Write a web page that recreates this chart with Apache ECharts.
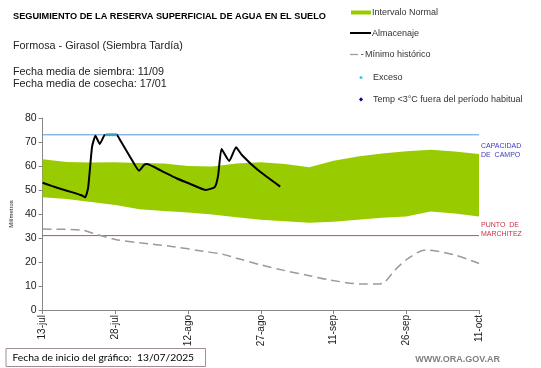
<!DOCTYPE html>
<html>
<head>
<meta charset="utf-8">
<script src="https://cdn.jsdelivr.net/npm/echarts@6/dist/echarts.min.js"></script>
<style>
html,body{margin:0;padding:0;background:#fff;}
#chart{width:541px;height:368px;}
</style>
</head>
<body>
<div id="chart"></div>
<script>
// ---- data (x = days since 13/07/2025) ----
const tickLabels = ['13-jul','28-jul','12-ago','27-ago','11-sep','26-sep','11-oct'];
const dayMin = 0, dayMax = 90;

const bandDays  = [0,5,10,15,20,25,30,35,40,45,50,55,60,65,70,75,80,85,90];
const bandLower = [47,46.2,45,43.8,42,41.3,40.6,39.8,38.6,37.6,37,36.4,36.8,37.6,38.4,39,41,40.2,39];
const bandUpper = [62.8,61.7,61.5,61.6,61.3,61,60,59.8,61,61.6,60.8,59.5,62.2,64,65.2,66.1,66.8,66,65];

const minDays = [0,8,10.8,15,20,27,33,37,40,45,50,55,59,66,69,70.5,72.7,75.4,79,85,90];
const minVals = [33.7,33.3,31.7,29.4,28,26.4,24.5,23.3,21.6,18.8,16.4,14.3,12.6,10.8,10.8,11.5,16.7,21.5,25,22.9,19.4];

const storDays = [0,2,4,6,8,8.8,9.4,10.2,10.9,11.8,12.8,13.5,14.5,15.3,15.8,18,19.9,20.9,21.5,24.5,27.6,30.5,33.7,35.5,36.2,36.9,38.5,39.9,41.1,44.4,49];
const storVals = [53,51.6,50.3,49.1,47.8,47,51,68,72.6,69.2,72.9,73,73,73,71.5,64,58,60.4,60.8,58,54.9,52.5,50,51.2,56,67.1,62.1,67.8,64.6,58.3,51.4];

const excesoDays = [13.2,13.8,14.4,15.0];
const excesoVals = [73,73,73,73];

const capacidadCampo = 73;
const puntoMarchitez = 31;

// ---- build ----
const bandData = bandDays.map((d,i)=>[d, bandLower[i], bandUpper[i]]);
const minData = minDays.map((d,i)=>[d, minVals[i]]);
const storData = storDays.map((d,i)=>[d, storVals[i]]);
const excData = excesoDays.map((d,i)=>[d, excesoVals[i]]);
const capData = [[dayMin, capacidadCampo],[dayMax, capacidadCampo]];
const pmpData = [[dayMin, puntoMarchitez],[dayMax, puntoMarchitez]];

const FONT = 'Liberation Sans, Arial, sans-serif';
const chart = echarts.init(document.getElementById('chart'));

function renderBand(params, api){
  if (params.dataIndex !== 0) return;
  const up = [], lo = [];
  for (let i=0;i<bandData.length;i++){
    up.push(api.coord([bandData[i][0], bandData[i][2]]));
    lo.push(api.coord([bandData[i][0], bandData[i][1]]));
  }
  const pts = up.concat(lo.reverse());
  return {type:'polygon',shape:{points:pts},style:{fill:'#99cc00',stroke:null}};
}

const option = {
  animation:false,
  backgroundColor:'#fff',
  grid:{left:33,right:62,top:118,bottom:58,containLabel:false},
  xAxis:{
    type:'value',min:dayMin,max:dayMax,interval:15,
    axisLine:{show:true,lineStyle:{color:'#868686',width:1}},
    axisTick:{show:true,length:4,lineStyle:{color:'#868686'}},
    splitLine:{show:false},
    axisLabel:{rotate:90,fontSize:10,color:'#222',margin:5,fontFamily:FONT,
      formatter:v=>tickLabels[Math.round(v/15)]||''}
  },
  yAxis:{
    type:'value',min:0,max:80,interval:10,
    name:'Milímetros',nameLocation:'middle',nameGap:21,
    nameTextStyle:{fontSize:6,color:'#222',fontFamily:FONT},
    axisLine:{show:true,lineStyle:{color:'#868686',width:1}},
    axisTick:{show:true,length:4,lineStyle:{color:'#868686'}},
    splitLine:{show:false},
    axisLabel:{fontSize:10.5,color:'#222',margin:6,fontFamily:FONT}
  },
  series:[
    {name:'Intervalo Normal',type:'custom',data:bandData,renderItem:renderBand,
      encode:{x:0,y:[1,2]},silent:true,z:1,clip:true},
    {name:'Capacidad de campo',type:'line',data:capData,symbol:'none',z:2,silent:true,
      lineStyle:{color:'#5b8fd9',width:1}},
    {name:'Punto de marchitez',type:'line',data:pmpData,symbol:'none',z:2,silent:true,
      lineStyle:{color:'#c0504d',width:1}},
    {name:'Mínimo histórico',type:'line',data:minData,smooth:0.3,symbol:'none',
      lineStyle:{color:'#9a9a9a',width:1.5,type:[9,5]},z:2},
    {name:'Almacenaje',type:'line',data:storData,smooth:0.15,symbol:'none',
      lineStyle:{color:'#000',width:2},z:3},
    {name:'Exceso',type:'scatter',data:excData,symbol:'circle',symbolSize:3.5,
      itemStyle:{color:'#3ec6e0'},z:4},
    {name:'Temp <3°C fuera del período habitual',type:'scatter',data:[],symbol:'diamond',
      itemStyle:{color:'#00008b'},z:4}
  ],
  graphic:[
    {type:'text',style:{x:13,y:16,text:'SEGUIMIENTO DE LA RESERVA SUPERFICIAL DE AGUA EN EL SUELO',font:'bold 9.2px '+FONT,fill:'#000',verticalAlign:'middle'}},
    {type:'text',style:{x:13,y:46,text:'Formosa - Girasol (Siembra Tardía)',font:'10.8px '+FONT,fill:'#222',verticalAlign:'middle'}},
    {type:'text',style:{x:13,y:72,text:'Fecha media de siembra: 11/09',font:'10.8px '+FONT,fill:'#222',verticalAlign:'middle'}},
    {type:'text',style:{x:13,y:84,text:'Fecha media de cosecha: 17/01',font:'10.8px '+FONT,fill:'#222',verticalAlign:'middle'}},
    // legend
    {type:'rect',shape:{x:351,y:10.5,width:20,height:4},style:{fill:'#99cc00'}},
    {type:'text',style:{x:372,y:12.5,text:'Intervalo Normal',font:'9px '+FONT,fill:'#333',verticalAlign:'middle'}},
    {type:'line',shape:{x1:350,y1:33,x2:371,y2:33},style:{stroke:'#000',lineWidth:2}},
    {type:'text',style:{x:372,y:33.5,text:'Almacenaje',font:'9px '+FONT,fill:'#333',verticalAlign:'middle'}},
    {type:'line',shape:{x1:350,y1:54.5,x2:358,y2:54.5},style:{stroke:'#9a9a9a',lineWidth:1.2}},
    {type:'line',shape:{x1:361,y1:54.5,x2:363.5,y2:54.5},style:{stroke:'#666',lineWidth:1}},
    {type:'text',style:{x:365,y:54.5,text:'Mínimo histórico',font:'9px '+FONT,fill:'#333',verticalAlign:'middle'}},
    {type:'circle',shape:{cx:361,cy:77.5,r:1.5},style:{fill:'#3ec6e0'}},
    {type:'text',style:{x:373,y:77.5,text:'Exceso',font:'9px '+FONT,fill:'#333',verticalAlign:'middle'}},
    {type:'polygon',shape:{points:[[361,97.2],[363,99.4],[361,101.6],[359,99.4]]},style:{fill:'#00008b'}},
    {type:'text',style:{x:373,y:99.5,text:'Temp <3°C fuera del período habitual',font:'9px '+FONT,fill:'#333',verticalAlign:'middle'}},
    // side labels
    {type:'text',style:{x:481,y:146,text:'CAPACIDAD',font:'7px '+FONT,fill:'#3a3ac0',verticalAlign:'middle'}},
    {type:'text',style:{x:481,y:155,text:'DE  CAMPO',font:'7px '+FONT,fill:'#3a3ac0',verticalAlign:'middle'}},
    {type:'text',style:{x:481,y:225,text:'PUNTO  DE',font:'7px '+FONT,fill:'#c83048',verticalAlign:'middle'}},
    {type:'text',style:{x:481,y:234,text:'MARCHITEZ',font:'7px '+FONT,fill:'#c83048',verticalAlign:'middle'}},
    // footer
    {type:'rect',shape:{x:6,y:348.5,width:199.5,height:18},style:{fill:'#fff',stroke:'#9d8f8f',lineWidth:1}},
    {type:'text',style:{x:12.5,y:358,text:'Fecha de inicio del gráfico:',font:'10.3px Lato, '+FONT,fill:'#000',verticalAlign:'middle'}},
    {type:'text',style:{x:137,y:358,text:'13/07/2025',font:'10.3px Lato, '+FONT,fill:'#000',verticalAlign:'middle'}},
    {type:'text',style:{x:500,y:360,text:'WWW.ORA.GOV.AR',font:'bold 9px '+FONT,fill:'#808080',align:'right',verticalAlign:'middle'}}
  ]
};
chart.setOption(option);
</script>
</body>
</html>
